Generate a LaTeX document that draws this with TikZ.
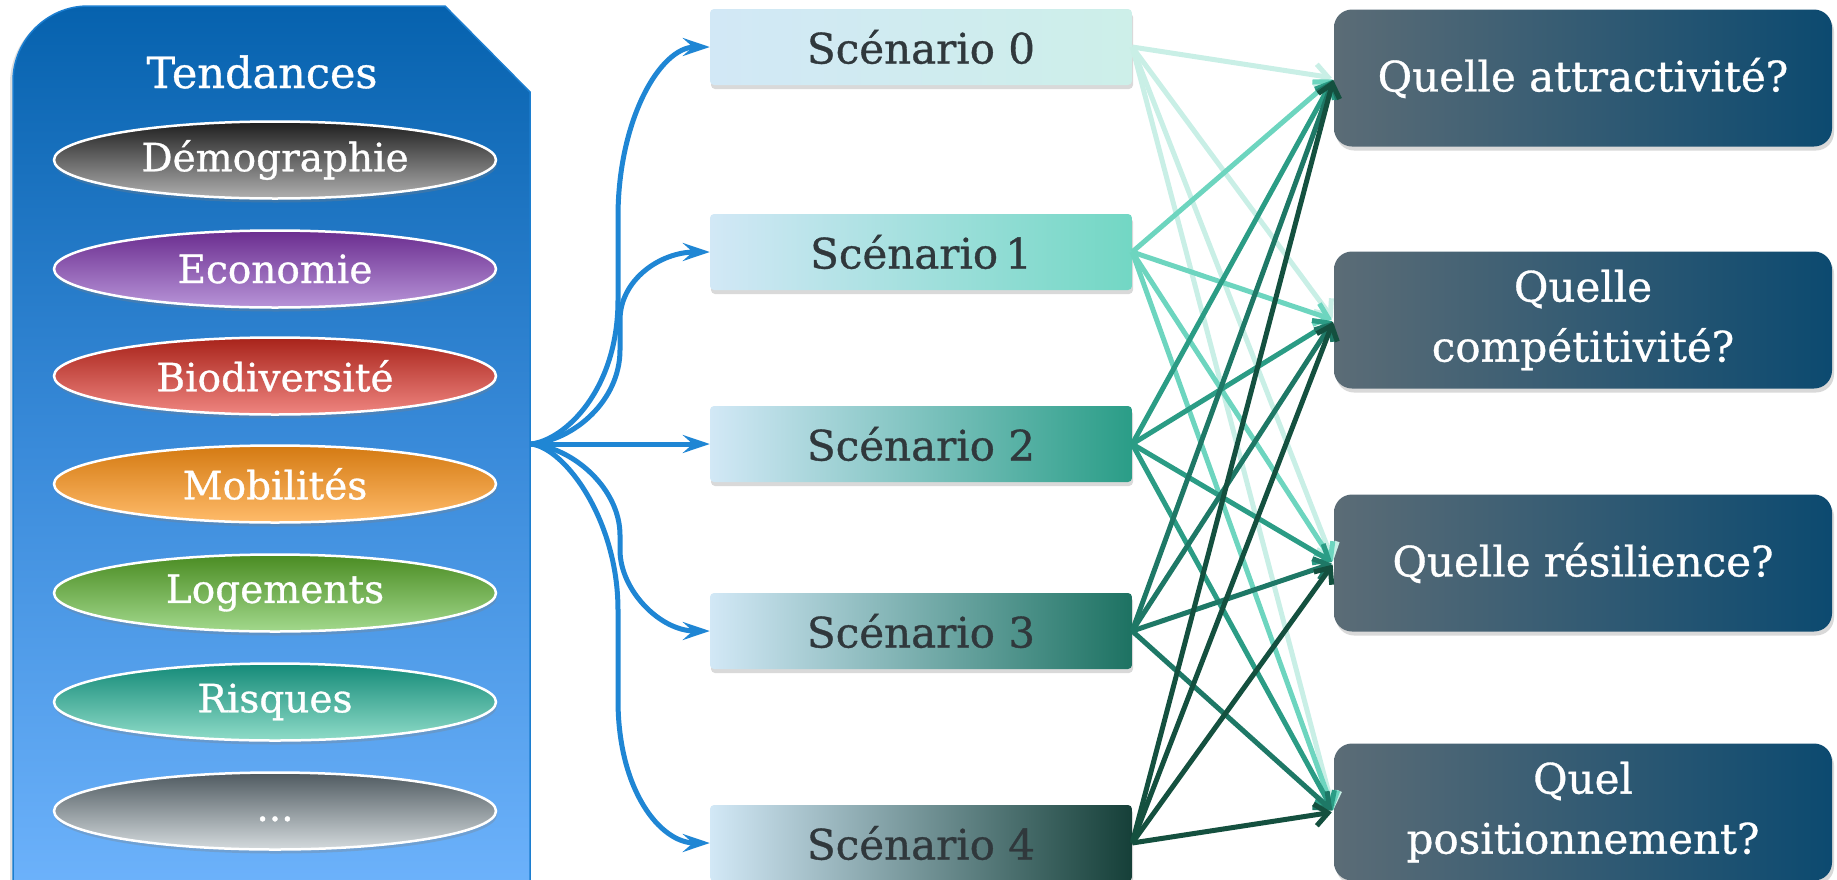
\documentclass[tikz,border=0pt]{standalone}
\usepackage{fontspec}
\setmainfont{DejaVu Serif}[FakeBold=0.8]
\usetikzlibrary{arrows.meta,shapes.geometric,shadows}
\definecolor{panelTop}{HTML}{0662AE}
\definecolor{panelMid}{HTML}{3A8BDA}
\definecolor{panelBot}{HTML}{6EB3FC}
\definecolor{panelEdge}{HTML}{1C7ED0}
\definecolor{arrowBlue}{HTML}{1F86D4}
\definecolor{scL}{HTML}{D2E8F6}
\definecolor{scR0}{HTML}{CDEFE9}
\definecolor{scR1}{HTML}{72D7C4}
\definecolor{scR2}{HTML}{2A9D87}
\definecolor{scR3}{HTML}{1D7262}
\definecolor{scR4}{HTML}{153F38}
\definecolor{scText}{HTML}{30383C}
\definecolor{ln0}{HTML}{C9EFE6}
\definecolor{ln1}{HTML}{6DD5BF}
\definecolor{ln2}{HTML}{2B9C85}
\definecolor{ln3}{HTML}{1E7866}
\definecolor{ln4}{HTML}{14503F}
\definecolor{qL}{HTML}{5B6C76}
\definecolor{qR}{HTML}{0C4A70}
\definecolor{eT1}{HTML}{1E1E1E}\definecolor{eB1}{HTML}{B0B0B0}
\definecolor{eT2}{HTML}{6A2D8F}\definecolor{eB2}{HTML}{B894D8}
\definecolor{eT3}{HTML}{A8231A}\definecolor{eB3}{HTML}{EF8580}
\definecolor{eT4}{HTML}{D47A12}\definecolor{eB4}{HTML}{FFBB6A}
\definecolor{eT5}{HTML}{4A8C22}\definecolor{eB5}{HTML}{A2D88C}
\definecolor{eT6}{HTML}{148A78}\definecolor{eB6}{HTML}{8FDCC8}
\definecolor{eT7}{HTML}{4F5A60}\definecolor{eB7}{HTML}{D4DADD}
\begin{document}
\begin{tikzpicture}[x=1pt,y=-1pt,
  ell/.style={ellipse, draw=white, line width=2.5pt, minimum width=442pt,
    minimum height=77pt, inner sep=0pt, text=white,
    font=\fontsize{39}{44}\selectfont,
    drop shadow={opacity=0.3, shadow xshift=1pt, shadow yshift=-4pt}},
  scen/.style={rectangle, rounded corners=4pt, minimum width=422pt,
    minimum height=76pt, inner sep=0pt, text=scText,
    font=\fontsize{42}{48}\selectfont, left color=scL,
    drop shadow={opacity=0.3, shadow xshift=1pt, shadow yshift=-4pt}},
  qbox/.style={rectangle, rounded corners=18pt, minimum width=498pt,
    minimum height=137pt, inner sep=0pt, text=white, align=center,
    font=\fontsize{42}{60}\selectfont, left color=qL, right color=qR,
    drop shadow={opacity=0.3, shadow xshift=2pt, shadow yshift=-4pt}},
  barrow/.style={draw=arrowBlue, line width=5pt,
    -{Stealth[length=27pt,width=18pt,inset=10pt]}},
  garrow/.style={line width=5pt,
    -{Straight Barb[length=13pt,width=22pt]}, shorten >=2pt}
]
\useasboundingbox (0,0) rectangle (1837,879);
\clip (0,0) rectangle (1837,879);
% left panel
\shade[top color=panelTop, bottom color=panelBot, middle color=panelMid,
  draw=panelEdge, line width=1.5pt,
  drop shadow={opacity=0.25, shadow xshift=-3pt, shadow yshift=-2pt}]
  (13,900) -- (13,81) .. controls (13,40) and (47,6) .. (88,6)
  -- (445,6) -- (530,92) -- (530,900) -- cycle;
\node[text=white, font=\fontsize{43}{48}\selectfont] (tend) at (262,72) {Tendances};
\node[ell, top color=eT1, bottom color=eB1] (e1) at (275,160) {Démographie};
\node[ell, top color=eT2, bottom color=eB2] (e2) at (275,269) {Economie};
\node[ell, top color=eT3, bottom color=eB3] (e3) at (275,376) {Biodiversité};
\node[ell, top color=eT4, bottom color=eB4] (e4) at (275,484) {Mobilités};
\node[ell, top color=eT5, bottom color=eB5] (e5) at (275,593) {Logements};
\node[ell, top color=eT6, bottom color=eB6] (e6) at (275,702) {Risques};
\node[ell, top color=eT7, bottom color=eB7] (e7) at (275,811) {\vphantom{Dg}...};
% scenarios
\node[scen, right color=scR0] (s0) at (921,47) {Scénario 0};
\node[scen, right color=scR1] (s1) at (921,252) {Scénario\,1};
\node[scen, right color=scR2] (s2) at (921,444) {Scénario 2};
\node[scen, right color=scR3] (s3) at (921,631) {Scénario 3};
\node[scen, right color=scR4] (s4) at (921,843) {Scénario 4};
% questions
\node[qbox] (q1) at (1583,78) {Quelle attractivité?};
\node[qbox] (q2) at (1583,320) {Quelle\\compétitivité?};
\node[qbox] (q3) at (1583,563) {Quelle résilience?};
\node[qbox] (q4) at (1583,812) {Quel\\positionnement?};
% blue arrows
\coordinate (o) at (531,444);
\draw[barrow] (o) .. controls (565,440) and (618,390) .. (618,300)
  -- (618,217) .. controls (618,120) and (660,47) .. (s0.west);
\draw[barrow] (o) .. controls (575,440) and (620,400) .. (620,350)
  -- (620,320) .. controls (620,280) and (660,252) .. (s1.west);
\draw[barrow] (o) -- (s2.west);
\draw[barrow] (o) .. controls (575,448) and (620,490) .. (620,535)
  -- (620,550) .. controls (620,590) and (660,631) .. (s3.west);
\draw[barrow] (o) .. controls (565,448) and (618,520) .. (618,610)
  -- (618,700) .. controls (618,790) and (660,843) .. (s4.west);
% green arrows
\foreach \i in {0,...,4}{
  \foreach \j in {1,...,4}{
    \draw[garrow, draw=ln\i] (s\i.east) -- (q\j.west);
  }
}
\end{tikzpicture}
\end{document}
